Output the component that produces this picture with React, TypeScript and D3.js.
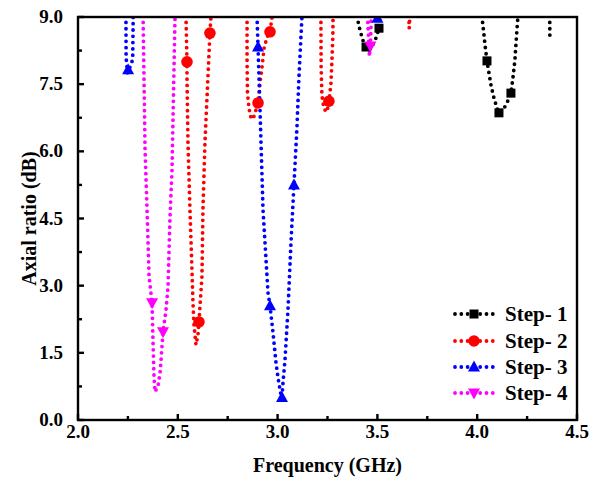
import React from "react";
import * as d3 from "d3";

type P = [number, number];

// ---- Data (frequency GHz, axial ratio dB) ----
const seriesNames = ["Step- 1", "Step- 2", "Step- 3", "Step- 4"];
const seriesColors = ["#000000", "#ff0000", "#0000ff", "#ff00ff"];

const step1Curves: P[][] = [
  [[3.394, 9.3], [3.398, 9.0], [3.413, 8.7], [3.423, 8.55], [3.433, 8.4], [3.443, 8.33], [3.458, 8.26], [3.473, 8.35], [3.488, 8.47], [3.498, 8.6], [3.508, 8.75], [3.513, 9.0], [3.515, 9.3]],
  [[4.022, 9.3], [4.024, 9.0], [4.034, 8.6], [4.039, 8.38], [4.049, 8.02], [4.059, 7.75], [4.069, 7.48], [4.084, 7.19], [4.099, 6.97], [4.109, 6.86], [4.129, 6.92], [4.149, 7.08], [4.169, 7.3], [4.179, 7.64], [4.189, 8.04], [4.194, 8.38], [4.199, 8.71], [4.204, 9.0], [4.206, 9.3]],
  [[4.363, 9.3], [4.364, 8.55]],
];
const step1Markers: P[] = [[3.443, 8.33], [3.508, 8.75], [4.049, 8.02], [4.109, 6.86], [4.169, 7.3]];

const step2Curves: P[][] = [
  [[2.54, 9.3], [2.541, 9.0], [2.546, 8.0], [2.546, 7.66], [2.551, 6.19], [2.561, 4.69], [2.571, 3.35], [2.576, 2.62], [2.581, 2.13], [2.591, 1.68], [2.601, 1.9], [2.606, 2.19], [2.621, 3.2], [2.626, 4.69], [2.636, 6.19], [2.651, 7.66], [2.661, 8.64], [2.666, 9.0], [2.668, 9.3]],
  [[2.845, 9.3], [2.847, 9.0], [2.847, 8.0], [2.849, 7.3], [2.857, 6.95], [2.867, 6.75], [2.877, 6.72], [2.897, 7.0], [2.902, 7.08], [2.912, 7.53], [2.922, 7.88], [2.932, 8.3], [2.947, 8.55], [2.962, 8.67], [2.972, 9.0], [2.974, 9.3]],
  [[3.216, 9.3], [3.217, 9.0], [3.218, 7.9], [3.222, 7.25], [3.232, 6.95], [3.247, 6.88], [3.257, 7.1], [3.267, 7.5], [3.272, 8.0], [3.277, 8.6], [3.278, 9.3]],
  [[3.657, 9.3], [3.659, 8.75], [3.661, 8.8], [3.663, 9.3]],
];
const step2Markers: P[] = [[2.546, 8.0], [2.606, 2.19], [2.661, 8.64], [2.902, 7.08], [2.962, 8.67], [3.257, 7.12]];

const step3Curves: P[][] = [
  [[2.24, 9.3], [2.241, 8.1], [2.248, 7.75], [2.258, 7.85], [2.274, 8.05], [2.276, 8.8], [2.277, 9.3]],
  [[2.895, 9.3], [2.897, 9.0], [2.902, 8.33], [2.912, 6.92], [2.927, 4.69], [2.952, 2.84], [2.962, 2.55], [2.977, 1.95], [2.992, 1.28], [3.002, 0.95], [3.017, 0.55], [3.022, 0.5], [3.027, 0.83], [3.037, 1.34], [3.052, 2.46], [3.067, 3.96], [3.082, 5.25], [3.097, 6.54], [3.107, 7.66], [3.122, 9.0], [3.124, 9.3]],
  [[3.492, 9.3], [3.497, 8.95], [3.503, 8.95], [3.508, 9.3]],
];
const step3Markers: P[] = [[2.251, 7.82], [2.902, 8.33], [2.962, 2.55], [3.022, 0.5], [3.082, 5.25], [3.5, 8.97]];

const step4Curves: P[][] = [
  [[2.325, 9.3], [2.326, 9.0], [2.336, 6.03], [2.346, 4.69], [2.356, 3.2], [2.371, 2.62], [2.376, 1.72], [2.381, 0.96], [2.386, 0.63], [2.401, 0.76], [2.411, 1.05], [2.416, 1.34], [2.426, 1.97], [2.441, 2.46], [2.451, 2.97], [2.461, 4.54], [2.471, 5.58], [2.486, 9.0], [2.488, 9.3]],
  [[3.448, 9.3], [3.452, 8.9], [3.456, 8.5], [3.46, 8.12], [3.465, 8.4], [3.468, 8.8], [3.47, 9.3]],
];
const step4Markers: P[] = [[2.371, 2.62], [2.426, 1.97], [3.465, 8.35]];

const xTicks = [2.0, 2.5, 3.0, 3.5, 4.0, 4.5];
const xMinor = [2.25, 2.75, 3.25, 3.75, 4.25];
const yTicks = [0.0, 1.5, 3.0, 4.5, 6.0, 7.5, 9.0];
const yMinor = [0.75, 2.25, 3.75, 5.25, 6.75, 8.25];

const allCurves = [step1Curves, step2Curves, step3Curves, step4Curves];
const allMarkers = [step1Markers, step2Markers, step3Markers, step4Markers];
const markerShapes = ["square", "circle", "triUp", "triDown"];

const W = 590, H = 483;
const L = 78, R = 577, T = 17, B = 420;
const textStyle: React.CSSProperties = {
  fontFamily: '"Liberation Serif", "Times New Roman", Times, serif',
  fontWeight: 700,
};

function Marker({ shape, x, y, color }: { shape: string; x: number; y: number; color: string }) {
  if (shape === "square") return <rect x={x - 4.5} y={y - 4.5} width={9} height={9} fill={color} />;
  if (shape === "circle") return <circle cx={x} cy={y} r={5.8} fill={color} />;
  if (shape === "triUp") return <path d={`M${x},${y - 6.5}L${x + 6},${y + 4.5}L${x - 6},${y + 4.5}Z`} fill={color} />;
  return <path d={`M${x},${y + 6.5}L${x + 6},${y - 4.5}L${x - 6},${y - 4.5}Z`} fill={color} />;
}

export default function App() {
  const x = d3.scaleLinear().domain([2.0, 4.5]).range([L, R]);
  const y = d3.scaleLinear().domain([0, 9]).range([B, T]);
  const line = d3.line<P>().x((d) => x(d[0])).y((d) => y(d[1]));

  const legendY = [314, 341, 367, 393];

  return (
    <svg width={W} height={H} style={{ position: "absolute", left: 0, top: 0, background: "#fff" }}>
      <defs>
        <clipPath id="plotclip">
          <rect x={L} y={T} width={R - L} height={B - T} />
        </clipPath>
      </defs>
      <rect x={0} y={0} width={W} height={H} fill="#fff" />
      <g clipPath="url(#plotclip)">
        {allCurves.map((curves, si) =>
          curves.map((c, ci) => (
            <path
              key={`c${si}-${ci}`}
              d={line(c) || ""}
              fill="none"
              stroke={seriesColors[si]}
              strokeWidth={3.8}
              strokeLinecap="round"
              strokeDasharray="0 6.3"
            />
          ))
        )}
        {allMarkers.map((ms, si) =>
          ms.map((m, mi) => (
            <Marker key={`m${si}-${mi}`} shape={markerShapes[si]} x={x(m[0])} y={y(m[1])} color={seriesColors[si]} />
          ))
        )}
      </g>
      {/* frame */}
      <rect x={L} y={T} width={R - L} height={B - T} fill="none" stroke="#000" strokeWidth={2.4} />
      {/* x ticks */}
      {xTicks.map((t) => (
        <g key={`xt${t}`}>
          <line x1={x(t)} x2={x(t)} y1={B} y2={B - 6} stroke="#000" strokeWidth={2.4} />
          <text x={x(t)} y={438} textAnchor="middle" style={textStyle} fontSize={19}>
            {t.toFixed(1)}
          </text>
        </g>
      ))}
      {xMinor.map((t) => (
        <line key={`xm${t}`} x1={x(t)} x2={x(t)} y1={B} y2={B - 4} stroke="#000" strokeWidth={2.4} />
      ))}
      {yTicks.map((t) => (
        <g key={`yt${t}`}>
          <line x1={L} x2={L + 6} y1={y(t)} y2={y(t)} stroke="#000" strokeWidth={2.4} />
          <text x={63} y={y(t) + 6} textAnchor="end" style={textStyle} fontSize={19}>
            {t.toFixed(1)}
          </text>
        </g>
      ))}
      {yMinor.map((t) => (
        <line key={`ym${t}`} x1={L} x2={L + 4} y1={y(t)} y2={y(t)} stroke="#000" strokeWidth={2.4} />
      ))}
      {/* axis titles */}
      <text x={(L + R) / 2} y={472} textAnchor="middle" style={textStyle} fontSize={20}>
        Frequency (GHz)
      </text>
      <text
        transform={`translate(31,${(T + B) / 2}) rotate(-90)`}
        textAnchor="middle"
        dominantBaseline="middle"
        style={textStyle}
        fontSize={20}
      >
        Axial ratio (dB)
      </text>
      {/* legend */}
      {seriesNames.map((name, i) => (
        <g key={name}>
          <line
            x1={455}
            x2={493}
            y1={legendY[i]}
            y2={legendY[i]}
            stroke={seriesColors[i]}
            strokeWidth={3.8}
            strokeLinecap="round"
            strokeDasharray="0 6.3"
          />
          <Marker shape={markerShapes[i]} x={474} y={legendY[i]} color={seriesColors[i]} />
          <text x={505} y={legendY[i] + 7} style={textStyle} fontSize={21}>
            {name}
          </text>
        </g>
      ))}
    </svg>
  );
}
